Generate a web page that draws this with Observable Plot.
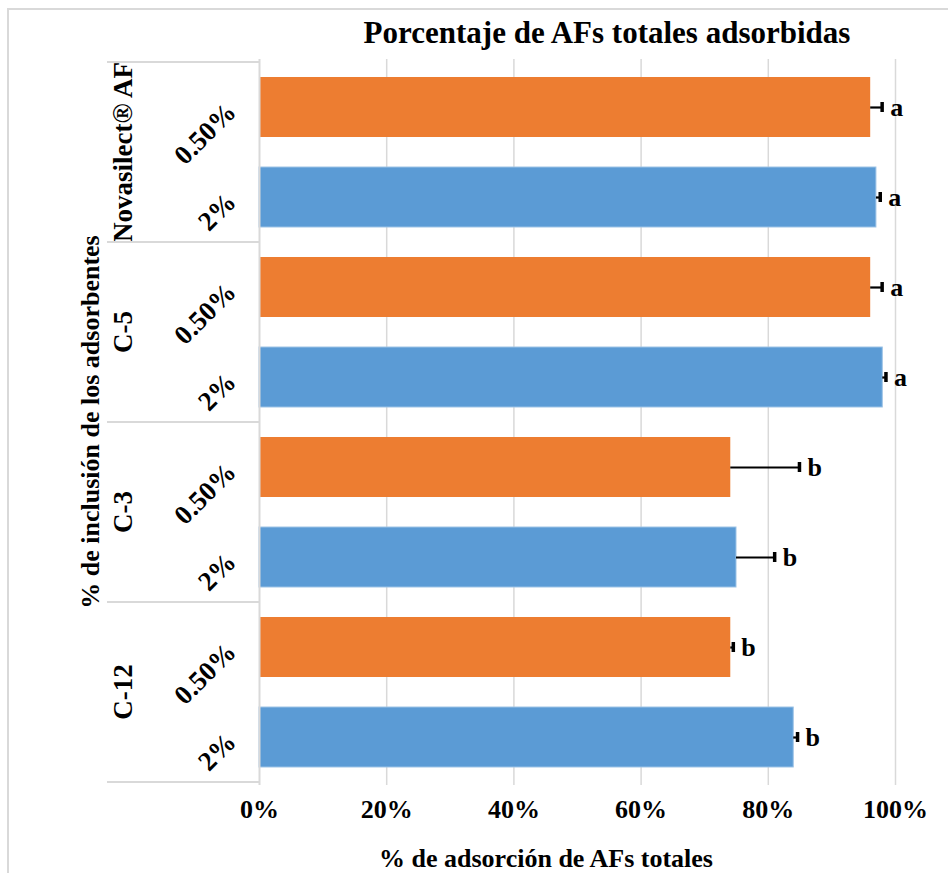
<!DOCTYPE html>
<html><head><meta charset="utf-8">
<script src="https://cdn.jsdelivr.net/npm/d3@7"></script>
<script src="https://cdn.jsdelivr.net/npm/@observablehq/plot@0.6"></script>
<style>
body{margin:0;background:#fff}
#chart svg{font-family:"Liberation Serif","Times New Roman",serif;font-weight:bold;}
#chart svg text{font-family:"Liberation Serif","Times New Roman",serif;}
</style>
</head><body><div id="chart"></div>
<script>
const groups = ["Novasilect® AF","Novasilect® AF","C-5","C-5","C-3","C-3","C-12","C-12"];
const doses = ["0.50%","2%","0.50%","2%","0.50%","2%","0.50%","2%"];
const values = [96.1, 97.0, 96.1, 98.0, 74.1, 75.0, 74.1, 84.0];
const errors = [1.8, 0.6, 1.8, 0.5, 10.8, 6.0, 0.4, 0.6];
const letters = ["a","a","a","a","b","b","b","b"];
const xTicks = [0,20,40,60,80,100];
const doseOrder = ["0.50%","2%"];
const doseColors = ["#ED7D31","#5B9BD5"];
const title = "Porcentaje de AFs totales adsorbidas";
const xTitle = "% de adsorción de AFs totales";
const yTitle = "% de inclusión de los adsorbentes";

const rows = groups.map((g,i)=>({key:g+"|"+doses[i], group:g, dose:doses[i], value:values[i], err:errors[i], letter:letters[i]}));

const W = 948, H = 873;
const FF = "'Liberation Serif', 'Times New Roman', serif";
const plot = Plot.plot({
  width: W, height: H,
  marginLeft: 259, marginRight: 53, marginTop: 59, marginBottom: 88,
  style: {fontFamily: FF, fontWeight: "bold", background: "white", color: "black"},
  x: {domain: [0,100]},
  y: {domain: rows.map(d=>d.key), paddingInner: 0.33, paddingOuter: 0.165, axis: null},
  color: {domain: doseOrder, range: doseColors},
  marks: [
    Plot.gridX(xTicks.slice(1), {stroke: "#d9d9d9", strokeOpacity: 1, strokeWidth: 1.5}),
    Plot.barX(rows, {x: "value", y: "key", fill: "dose", stroke: d => d.dose === "2%" ? "#9DC3E6" : "none", strokeWidth: 1}),
    Plot.ruleY(rows, {x1: "value", x2: d => d.value + d.err, y: "key", stroke: "black", strokeWidth: 2.2}),
    Plot.tickX(rows, {x: d => d.value + d.err, y: "key", stroke: "black", strokeWidth: 3.5, insetTop: 25, insetBottom: 25}),
    Plot.text(rows, {x: d => d.value + d.err, y: "key", text: "letter", textAnchor: "start", dx: 8, fontSize: 26, fontWeight: "bold"}),
    Plot.axisX(xTicks, {tickFormat: d => d + "%", tickSize: 0, tickPadding: 14, fontSize: 26, fontWeight: "bold", label: null}),
    Plot.ruleX([0], {stroke: "#d9d9d9", strokeWidth: 2}),
    Plot.text(rows, {y: "key", text: "dose", frameAnchor: "left", dx: -28, rotate: -45, textAnchor: "end", fontSize: 27, fontWeight: "bold"})
  ]
});
document.getElementById("chart").appendChild(plot);

const svg = d3.select(plot);
const sy = plot.scale("y");
const step = sy.step, bw = sy.bandwidth;
const pad = (step - bw) / 2;
const groupNames = Array.from(new Set(groups));
const tableLeft = 107, tableRight = 259;
const g = svg.append("g").style("font-family", FF).style("font-weight", "bold");
g.append("rect").attr("x", 8).attr("y", 9).attr("width", W).attr("height", H)
  .attr("fill", "none").attr("stroke", "#d9d9d9").attr("stroke-width", 2);
const bounds = [];
groupNames.forEach(name => {
  const keys = rows.filter(r => r.group === name).map(r => r.key);
  const top = sy.apply(keys[0]) - pad;
  const bottom = sy.apply(keys[keys.length-1]) + bw + pad;
  bounds.push(top, bottom);
  g.append("text").attr("transform", `translate(123,${(top+bottom)/2}) rotate(-90)`)
    .attr("text-anchor", "middle").attr("dominant-baseline", "central")
    .style("font-size", "27px").text(name);
});
Array.from(new Set(bounds.map(b => Math.round(b*10)/10))).forEach(y => {
  g.append("line").attr("x1", tableLeft).attr("x2", tableRight).attr("y1", y).attr("y2", y)
    .attr("stroke", "#d9d9d9").attr("stroke-width", 2);
});
const frameTop = bounds[0], frameBottom = bounds[bounds.length-1];
g.append("text").attr("transform", `translate(90,${(frameTop+frameBottom)/2}) rotate(-90)`)
  .attr("text-anchor", "middle").attr("dominant-baseline", "central")
  .style("font-size", "26px").text(yTitle);
g.append("text").attr("x", 607).attr("y", 43).attr("text-anchor", "middle")
  .style("font-size", "31px").text(title);
g.append("text").attr("x", 546).attr("y", 867).attr("text-anchor", "middle")
  .style("font-size", "26px").text(xTitle);
</script>
</body></html>
